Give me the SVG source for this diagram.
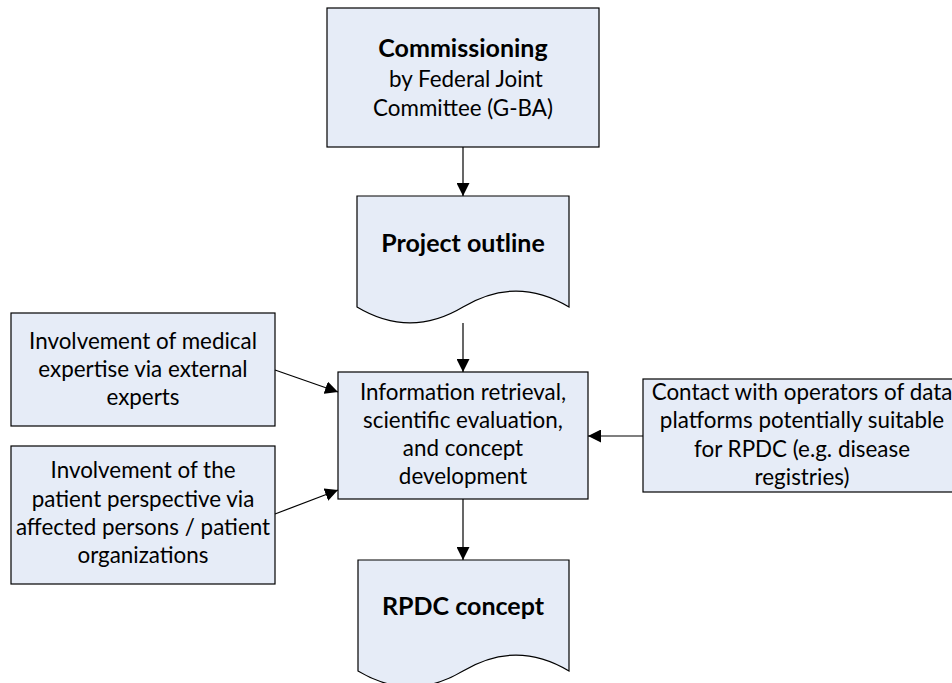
<svg xmlns="http://www.w3.org/2000/svg" width="952" height="683" viewBox="0 0 952 683">
  <defs>
    <marker id="arrow" markerUnits="userSpaceOnUse" markerWidth="13" markerHeight="13" viewBox="0 0 13 13" refX="13" refY="6.5" orient="auto">
      <path d="M0,0 L13,6.5 L0,13 Z" fill="#000"/>
    </marker>
    <style>
      .shape { fill: #E6ECF7; stroke: #000; stroke-width: 1.2; }
      .lbl { font-family: Lato, "Liberation Sans", sans-serif; font-size: 22.4px; fill: #000; text-anchor: middle; }
      .ttl { font-family: Lato, "Liberation Sans", sans-serif; font-size: 25px; font-weight: bold; fill: #000; text-anchor: middle; }
      .edge { fill: none; stroke: #000; stroke-width: 1.2; marker-end: url(#arrow); }
    </style>
  </defs>
  <rect width="952" height="683" fill="#fff"/>

  <g id="commissioning">
    <rect class="shape" x="327" y="8" width="272" height="139"/>
    <text class="ttl" x="463" y="57">Commissioning</text>
    <text class="lbl" x="466" y="87">by Federal Joint</text>
    <text class="lbl" x="463" y="116">Committee (G-BA)</text>
  </g>

  <g id="project-outline">
    <path class="shape" d="M357,196 H569 V307 C534,286 498,286 463,307 C428,328 392,328 357,307 Z"/>
    <text class="ttl" x="463" y="252">Project outline</text>
  </g>

  <g id="retrieval">
    <rect class="shape" x="338" y="372" width="250" height="127"/>
    <text class="lbl" x="463" y="400">Information retrieval,</text>
    <text class="lbl" x="463" y="428">scientific evaluation,</text>
    <text class="lbl" x="463" y="456">and concept</text>
    <text class="lbl" x="463" y="484">development</text>
  </g>

  <g id="rpdc-concept">
    <path class="shape" d="M358,560 H569 V671 C534,650 498,650 463,671 C428,692 393,692 358,671 Z"/>
    <text class="ttl" x="463" y="615">RPDC concept</text>
  </g>

  <g id="medical-expertise">
    <rect class="shape" x="11" y="313" width="264" height="113"/>
    <text class="lbl" x="143" y="349">Involvement of medical</text>
    <text class="lbl" x="143" y="377">expertise via external</text>
    <text class="lbl" x="143" y="405">experts</text>
  </g>

  <g id="patient-perspective">
    <rect class="shape" x="11" y="446" width="264" height="138"/>
    <text class="lbl" x="143" y="478">Involvement of the</text>
    <text class="lbl" x="143" y="507">patient perspective via</text>
    <text class="lbl" x="143" y="535">affected persons / patient</text>
    <text class="lbl" x="143" y="563">organizations</text>
  </g>

  <g id="data-platforms">
    <rect class="shape" x="643" y="379" width="320" height="113"/>
    <text class="lbl" x="802" y="400">Contact with operators of data</text>
    <text class="lbl" x="802" y="428">platforms potentially suitable</text>
    <text class="lbl" x="802" y="457">for RPDC (e.g. disease</text>
    <text class="lbl" x="802" y="485">registries)</text>
  </g>

  <g id="connectors">
    <path class="edge" d="M463,147 V196"/>
    <path class="edge" d="M463,323 V372"/>
    <path class="edge" d="M463,499 V560"/>
    <path class="edge" d="M275,370 L338,392"/>
    <path class="edge" d="M275,514 L338,490"/>
    <path class="edge" d="M643,436 H588"/>
  </g>
</svg>
